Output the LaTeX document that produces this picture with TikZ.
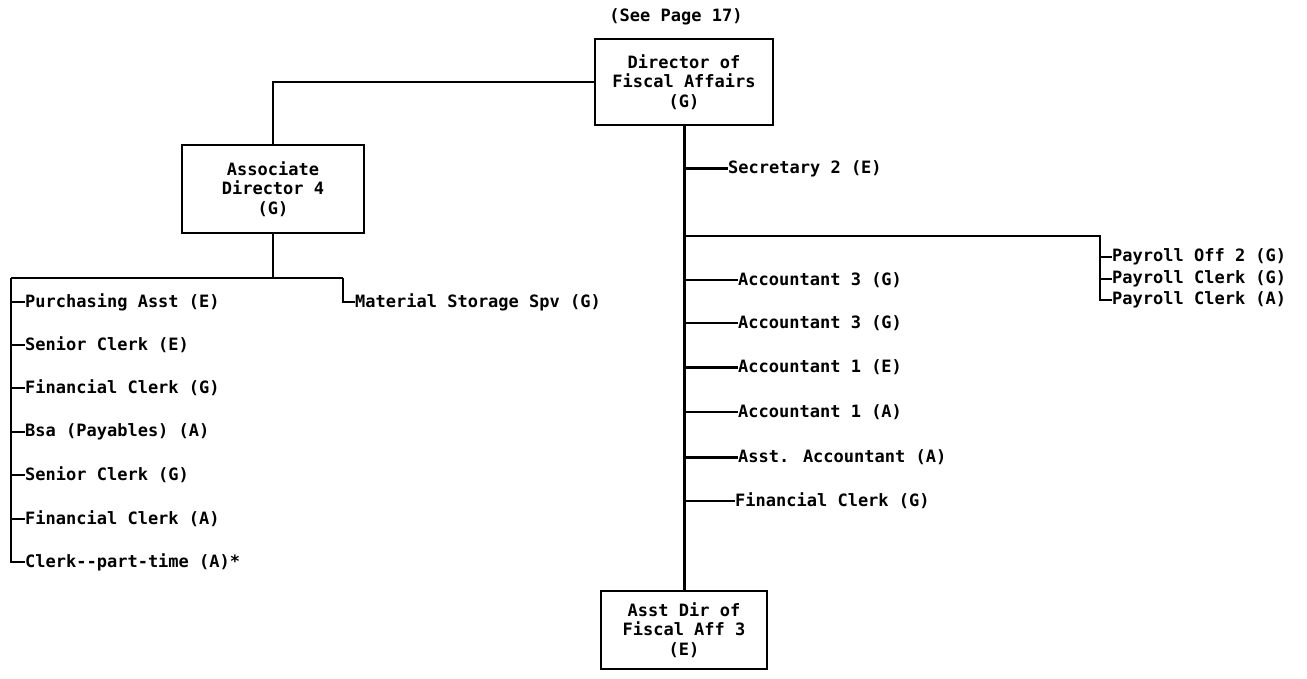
\documentclass[tikz,border=0pt]{standalone}
\usepackage{fontspec}
\newfontfamily\chartfont{DejaVu Sans Mono}
\begin{document}
\begin{tikzpicture}[x=1pt,y=-1pt,
  every node/.style={font=\chartfont\bfseries\fontsize{17}{19.5}\selectfont, inner sep=0pt},
  box/.style={draw, line width=2.2pt, align=center},
  conn/.style={line width=2pt},
  spine/.style={line width=3pt},
  item/.style={anchor=west}]
\useasboundingbox (0,0) rectangle (1307,679);
\fill[white] (0,0) rectangle (1307,679);

% top
\node (see) at (676,17) {(See Page 17)};
\node[box, minimum width=178pt, minimum height=86pt] (dir) at (684,82) {Director of\\Fiscal Affairs\\(G)};
\node[box, minimum width=182pt, minimum height=88pt] (assoc) at (273,189) {Associate\\Director 4\\(G)};
\node[box, minimum width=166pt, minimum height=78pt] (asst) at (684,630) {Asst Dir of\\Fiscal Aff 3\\(E)};

\draw[conn] (dir.west) -| (assoc.north);

% left group
\coordinate (ljoin) at (273,278);
\coordinate (lcorner) at (11,278);
\coordinate (mcorner) at (343,278);
\draw[conn] (assoc.south) -- (ljoin);
\draw[conn] (lcorner) -- (mcorner);

\node[item] (l1) at (25,302) {Purchasing Asst (E)};
\node[item] (l2) at (25,345) {Senior Clerk (E)};
\node[item] (l3) at (25,388) {Financial Clerk (G)};
\node[item] (l4) at (25,432) {Bsa (Payables) (A)};
\node[item] (l5) at (25,475) {Senior Clerk (G)};
\node[item] (l6) at (25,519) {Financial Clerk (A)};
\node[item] (l7) at (25,562) {Clerk--part-time (A)*};
\draw[conn] (lcorner) |- (l7.west);
\foreach \n in {l1,l2,l3,l4,l5,l6} \draw[conn] (lcorner |- \n.west) -- (\n.west);

\node[item] (mat) at (355,302) {Material Storage Spv (G)};
\draw[conn] (mcorner) |- (mat.west);

% spine
\draw[spine] (dir.south) -- (asst.north);

\node[item] (sec) at (728,169) {Secretary 2 (E)};
\draw[spine] (dir.south |- sec.west) -- (sec.west);

% payroll
\coordinate (pj) at (684,236);
\coordinate (pc) at (1100,236);
\node[item] (p1) at (1112,257) {Payroll Off 2 (G)};
\node[item] (p2) at (1112,279) {Payroll Clerk (G)};
\node[item] (p3) at (1112,300) {Payroll Clerk (A)};
\draw[conn] (pj) -- (pc) |- (p3.west);
\foreach \n in {p1,p2} \draw[conn] (pc |- \n.west) -- (\n.west);

% accountants
\node[item] (a1) at (738,280) {Accountant 3 (G)};
\node[item] (a2) at (738,323) {Accountant 3 (G)};
\node[item] (a3) at (738,367) {Accountant 1 (E)};
\node[item] (a4) at (738,412) {Accountant 1 (A)};
\node[item] (a5) at (738,457) {Asst. Accountant (A)};
\node[item] (a6) at (735,501) {Financial Clerk (G)};
\foreach \n in {a1,a2,a4,a6} \draw[conn] (dir.south |- \n.west) -- (\n.west);
\foreach \n in {a3,a5} \draw[spine] (dir.south |- \n.west) -- (\n.west);
\end{tikzpicture}
\end{document}
